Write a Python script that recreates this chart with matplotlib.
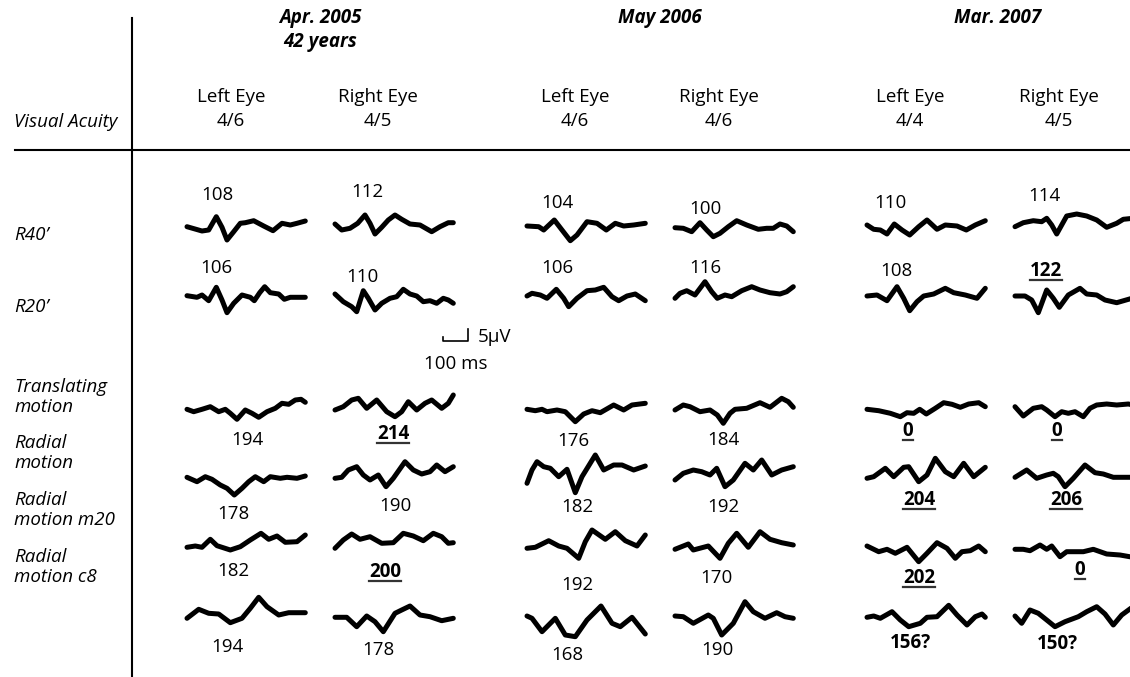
import matplotlib
matplotlib.use('Agg')
import matplotlib.pyplot as plt

plt.rcParams['font.family'] = ['Open Sans', 'DejaVu Sans']

# column / row headers
dates = ['Apr. 2005\n42 years', 'May 2006', 'Mar. 2007']
eyes = ['Left Eye', 'Right Eye'] * 3
acuity = ['4/6', '4/5', '4/6', '4/6', '4/4', '4/5']
rows = ["R40\u2019", "R20\u2019", 'Translating\nmotion', 'Radial\nmotion',
        'Radial\nmotion m20', 'Radial\nmotion c8']

# peak latencies (ms), one per column
lat_r40 = ['108', '112', '104', '100', '110', '114']
lat_r20 = ['106', '110', '106', '116', '108', '122']
lat_trans = ['194', '214', '176', '184', '0', '0']
lat_radial = ['178', '190', '182', '192', '204', '206']
lat_m20 = ['182', '200', '192', '170', '202', '0']
lat_c8 = ['194', '178', '168', '190', '156?', '150?']
# abnormal values are bold + underlined, uncertain ones bold only
underlined = {(1, 5), (2, 1), (2, 4), (2, 5), (3, 4), (3, 5), (4, 1), (4, 4), (4, 5)}
bold_only = {(5, 4), (5, 5)}

# traces: (time step, amplitude) points
wave_r40 = [
    [(0, 1.3), (15, -3), (21.7, -2), (29.3, 11.3), (35, 0.7), (40, -12), (46.7, -3.7), (53.3, 4.7),
     (58.3, 5.3), (66.7, 7.3), (76.7, 2), (86, -2.7), (95, 4.7), (103.3, 3), (110, 4.7), (118.3, 7)],
    [(0, 4), (6.7, -2), (15, -0.3), (22.7, 4.7), (30, 13), (35, 4.7), (40, -6), (46.7, 0.7), (53.3, 8),
     (60, 13), (66.7, 8.7), (75, 4), (85, 3), (96.7, -3.7), (105, 1.3), (113.3, 5.3), (118.3, 5.3)],
    [(0, 2), (11.7, 1.3), (16.7, -2), (27.3, 8), (35, -2), (43.3, -12.7), (50, -7), (60, 6.3), (70, 4.7),
     (79.3, -2), (88.3, 4.7), (96.7, 2), (106.7, 3), (118.3, 4.7)],
    [(0, 0.3), (8.3, -0.3), (16.7, -3.7), (25, 5.3), (31.7, -2), (38.3, -8.7), (45, -5.3), (53.3, 1.3),
     (61.7, 7.3), (71.7, 3), (83.3, -1.3), (91.7, -0.3), (98.3, -0.3), (105, 4), (111.7, 2), (118.3, -3.7)],
    [(0, 3), (6.7, -1.3), (13.3, -2), (20, -6), (27.3, 4), (35, -2), (42.7, -7), (51.7, 1.3), (60, 8),
     (70, -1.3), (78.3, 3), (90, 2), (99.3, -2), (108.3, 3), (118.3, 7.3)],
    [(0, 1.3), (8.3, 5.3), (18.3, 7.3), (26.7, 6.3), (31.7, 9.7), (36.7, 3), (41.7, -6), (46.7, 3),
     (51.7, 12), (61.7, 14), (71.7, 12), (81.7, 8), (91.7, 0.7), (101.7, 4.7), (108.3, 8.7), (118, 9.7)],
]
wave_r20 = [
    [(0, 2.3), (10, 0.7), (15, 3), (21.7, -2.7), (29.3, 10.7), (35, -2), (40, -14.7), (46.7, -5.3),
     (55, 3), (63.3, 0.7), (67.3, -2.7), (72.7, 5.3), (77.7, 11.3), (83.3, 5.3), (91.7, 4),
     (97.3, -1.3), (103.3, 0.7), (118.3, 0.7)],
    [(0, 4), (8.3, -3.7), (16.7, -8.7), (21.7, -13.7), (28.3, 7.3), (33.3, -0.3), (40, -12),
     (46.7, -5.3), (55, -0.3), (61.7, 1.3), (68.3, 8.7), (75, 4), (81.7, 2), (88.3, -3.7), (95, -2.7),
     (101.7, -5.3), (108.3, -0.3), (113.3, -2), (118.3, -5.3)],
    [(0, 2), (5, 4.7), (13.3, 3), (20, -0.3), (29.3, 8.7), (36.7, -0.3), (41.7, -8.7), (50, -0.3),
     (60, 7.3), (68.3, 8), (76.7, 10.7), (85, 1.3), (91.7, -2.7), (100, 2), (108.3, 4), (118.3, -2.7)],
    [(0, -0.3), (5, 4.7), (11.7, 7.3), (20, 3), (30, 16.3), (36.7, 6.3), (42.3, -0.3), (50, 3),
     (56.7, 1.3), (66.7, 7.3), (76.7, 11.3), (85, 8), (95, 5.3), (105, 4), (111.7, 6.3), (118.3, 11.3)],
    [(0, 2), (10, 3), (20, -2.7), (30, 11.3), (36.7, -0.3), (42.7, -12.7), (50, -3.7), (56.7, 2),
     (66.7, 4), (78.3, 9.7), (86.7, 5.3), (98.3, 3), (110, -0.3), (118.3, 9.7)],
    [(0, 2), (10, 2), (16.7, -2), (23.3, -14.7), (31.7, 8), (38.3, -0.3), (44.3, -9.3), (53.3, 3),
     (65, 9.7), (71.7, 4), (81.7, 3), (90, -2), (101.7, -4.7), (118, 0)],
]
wave_trans = [
    [(0, 0.7), (6.7, -1.7), (15, 0.7), (23.3, 3.3), (31.7, -1.7), (38.3, 0.7), (43.3, -3.3), (50, -9.3),
     (58.3, 0), (65, -3.3), (71.7, -7.3), (80, -1.7), (88.3, 1.7), (95, 6.7), (101.7, 5.7), (108.3, 10),
     (114, 10.7), (118.3, 7.7)],
    [(0, 0), (8.3, 3.3), (16.7, 10), (23.3, 11.7), (31.7, 1.7), (41.7, 10), (51.7, -1.7), (60, -6.7),
     (66.7, -1.7), (73.3, 8.3), (81.7, 0), (90, 6.7), (96.7, 10), (106.7, 1.7), (113.3, 6.7), (118.3, 15)],
    [(0, 0.7), (8.3, -0.7), (15, 0.7), (20, -1.7), (30, 0), (38.3, -1.7), (48.3, -11.7), (56.7, -4),
     (65, -0.7), (73.3, -2.7), (86.7, 5), (96.7, 0), (105, 5), (118.3, 6.7)],
    [(0, 0), (8.3, 5), (15, 3.3), (25, -1.7), (35, 0), (42.3, -5), (48.3, -13.3), (55, -3.3), (60, 0.7),
     (71.7, 1.7), (85, 7.3), (95, 2.7), (106.7, 11.7), (113.3, 8.3), (118.3, 2.7)],
    [(0, 0.7), (11.7, -0.7), (23.3, -3.3), (33.3, -6.7), (40, -2.7), (46.7, -3.3), (52.7, 0.7),
     (59.3, -4), (68.3, 1.7), (76.7, 7.3), (85, 5.7), (93.3, 2.7), (101.7, 6), (111.7, 7.3), (118.3, 3.3)],
    [(0, 3.3), (8.3, -6), (18.3, 1.7), (26.7, 3.3), (31.7, 0), (40, -6.7), (46.7, -1.7), (53.3, -3.3),
     (60, -1.7), (68.3, -6.7), (75, 1.7), (81.7, 5), (91.7, 6), (101.7, 5), (113.3, 6), (118, 5)],
]
wave_radial = [
    [(0, 0.7), (10, -3.7), (18.3, 1.3), (25, -1.3), (33.3, -7), (40, -10.3), (47.3, -17), (55, -10.3),
     (61.7, -3.7), (68.3, 1.3), (76.7, -3.7), (83.3, 1.3), (93.3, -0.3), (100, 0.7), (110, -0.3),
     (118.3, 2)],
    [(0, -0.3), (6.7, 0.7), (13.3, 8), (21.7, 11.3), (28.3, 3), (35, -2), (43.3, 3), (51, -8.7),
     (58.3, -0.3), (70, 16.3), (78.3, 8), (86.7, 4), (95, 6.3), (101.7, 13), (110, 6.3), (118.3, 11.3)],
    [(0, -5.3), (5, 8), (10, 16.3), (16.7, 11.3), (23.3, 9.7), (31.7, 1.3), (40, 8.7), (48.3, -14.7),
     (55, 1.3), (68.3, 23), (76.7, 8), (86.7, 13), (95, 13), (106.7, 8), (118.3, 12)],
    [(0, -2), (8.3, 4.7), (18.3, 8), (26.7, 6.3), (35, 3), (41.7, 9.7), (50, -8.7), (58.3, -2),
     (70, 14.7), (78.3, 8), (86.7, 18), (96.7, 3), (106.7, 8), (118.3, 11.3)],
    [(0, -0.3), (6.7, 1.3), (18.3, 9.7), (26.7, 1.3), (36.7, 10.7), (41.7, 11.3), (51.7, -3.7), (60, 3),
     (68.3, 19.7), (78.3, 6.3), (86.7, 1.3), (96.7, 14.7), (106.7, 1.3), (118.3, 10.7)],
    [(0, 0.7), (11.7, 8), (21.7, -0.3), (31.7, 3), (38.3, 4.7), (43.3, 1.3), (50, -8.7), (58.3, -0.3),
     (70, 13), (80, 5.3), (88.3, 4), (98.3, 0.7), (118, 0.7)],
]
wave_m20 = [
    [(0, -5.3), (8.3, -4), (15, -5.3), (23.3, 2.7), (30, -3.7), (43.3, -8), (53.3, -4.7), (63.3, 2),
     (74, 8.7), (81.7, 2.7), (90, 6), (98.3, -0.3), (110, 0.3), (118.3, 7)],
    [(0, -6.3), (8.3, 2), (16.7, 8), (25, 2.7), (35, 5.3), (46.7, -1.3), (58.3, -0.7), (68.3, 8.7),
     (78.3, 6), (88.3, 1.3), (98.3, 8.7), (106.7, 5.3), (113.3, -1.3), (118.3, -0.7)],
    [(0, -6.3), (8.3, -5.3), (21.7, 1.3), (31.7, -4), (40, -6.3), (51.7, -16.3), (58.3, 0.3), (65, 12),
     (78.3, 2.7), (88.3, 10.3), (98.3, 1.3), (110, -4), (118.3, 7)],
    [(0, -7.3), (13.3, -2), (18.3, -8), (33.3, -4), (45, -16.3), (53.3, -1.3), (61.7, 8.7), (73.3, -5.3),
     (85, 10.3), (95, 2.7), (106.7, -0.7), (118.3, -3)],
    [(0, -4), (11.7, -9.7), (20, -7.3), (28.3, -11.3), (40, -5.3), (51.7, -19.7), (60, -11.3),
     (70, -0.7), (80, -6.3), (88.3, -16.3), (95, -9.7), (103.3, -8.7), (111.7, -4), (118.3, -9.7)],
    [(0, -7.3), (8.3, -7.3), (15, -8.7), (25, -3), (31.7, -7.3), (36.7, -4), (45, -14.7), (51.7, -9.7),
     (68.3, -9.7), (78.3, -7.3), (91.7, -12), (105, -13), (118, -15.3)],
]
wave_c8 = [
    [(0, -6.3), (11.7, 2.7), (21.7, -1.3), (31.7, -2), (43.3, -10.7), (55, -6.3), (63.3, 3.7),
     (71.7, 14.7), (80, 5.3), (91.7, -3), (101.7, -0.7), (118.3, -0.7)],
    [(0, -5.3), (11.7, -5.3), (21.7, -14.7), (31.7, -4), (40, -9.7), (48.3, -19.7), (60, -1.3), (66.7, 2),
     (75, 6), (85, -3), (95, -4.7), (106.7, -8.7), (118.3, -6.3)],
    [(0, -4), (5, -6.3), (15, -19.7), (28.3, -6.3), (38.3, -23), (48.3, -24.7), (60, -8), (74, 6),
     (85, -11.3), (93.3, -14.7), (105, -5.3), (118.3, -22)],
    [(0, -4), (8.3, -4.7), (18.3, -11.3), (33.3, -3), (38.3, -6.3), (46.7, -23), (58.3, -11.3), (70, 10.3),
     (78.3, 0.3), (90, -6.3), (101.7, -0.7), (110, -4.7), (118.3, -6.3)],
    [(0, -5.3), (6.7, -4), (13.3, -6.3), (25, 0.3), (33.3, -8), (41.7, -14.7), (53.3, -11.3), (60, -5.3),
     (70, -4.7), (81.7, 6.7), (90, -3), (100, -13), (108.3, -4.7), (115, -2), (118.3, -5.3)],
    [(0, -4), (6.7, -11.3), (15, 2), (23.3, -1.3), (31.7, -8), (40, -14.7), (50, -9.7), (63.3, -4.7),
     (71.7, 0.3), (81.7, 5.3), (90, -2), (98.3, -13), (106.7, -3), (118, 5.3)],
]

waves = [wave_r40, wave_r20, wave_trans, wave_radial, wave_m20, wave_c8]
lats = [lat_r40, lat_r20, lat_trans, lat_radial, lat_m20, lat_c8]

# layout (pixels of the 1130x677 canvas)
col_x0 = [187, 335, 527, 675, 867, 1015]
col_mid = [231, 378, 575, 719, 910, 1059]
date_mid = [320, 660, 998]
row_base = [228, 298, 410, 478, 542, 612]
row_label_y = [235, 307, 397, 453, 510, 567]
lat_xy = [
    [(217, 195), (367, 192), (557, 203), (705, 209), (890, 203), (1044, 196)],
    [(216, 268), (362, 277), (557, 268), (705, 268), (896, 271), (1046, 271)],
    [(247, 440), (393, 434), (573, 441), (723, 440), (908, 431), (1057, 431)],
    [(233, 514), (395, 506), (577, 507), (723, 507), (919, 500), (1066, 500)],
    [(233, 571), (385, 572), (577, 585), (716, 578), (919, 578), (1080, 570)],
    [(227, 647), (378, 650), (567, 655), (717, 650), (910, 643), (1057, 644)],
]

fs = 13.5
fig = plt.figure(figsize=(11.3, 6.77), dpi=100)
ax = fig.add_axes([0, 0, 1, 1])
ax.set_xlim(0, 1130)
ax.set_ylim(677, 0)
ax.axis('off')

# grid lines
ax.plot([132, 132], [18, 677], color='black', lw=1.5)
ax.plot([15, 1130], [150, 150], color='black', lw=1.5)

for i, d in enumerate(dates):
    ax.text(date_mid[i], 8, d, ha='center', va='top', fontsize=fs, fontweight='bold',
            fontstyle='italic', linespacing=1.25)
for j in range(6):
    ax.text(col_mid[j], 97, eyes[j], ha='center', va='center', fontsize=fs)
    ax.text(col_mid[j], 121, acuity[j], ha='center', va='center', fontsize=fs)
ax.text(14, 122, 'Visual Acuity', ha='left', va='center', fontsize=fs, fontstyle='italic')

for i, name in enumerate(rows):
    ax.text(14, row_label_y[i], name, ha='left', va='center', fontsize=fs, fontstyle='italic',
            linespacing=1.2)

# waveforms
for i, row in enumerate(waves):
    for j, pts in enumerate(row):
        xs = [col_x0[j] + t for t, v in pts]
        ys = [row_base[i] - v for t, v in pts]
        ax.plot(xs, ys, color='black', lw=3.6, solid_joinstyle='round', solid_capstyle='round')

# latency numbers
under = []
for i, row in enumerate(lats):
    for j, s in enumerate(row):
        x, y = lat_xy[i][j]
        bold = (i, j) in underlined or (i, j) in bold_only
        t = ax.text(x, y, s, ha='center', va='center', fontsize=fs,
                    fontweight='bold' if bold else 'normal')
        if (i, j) in underlined:
            under.append(t)

fig.canvas.draw()
inv = ax.transData.inverted()
for t in under:
    bb = t.get_window_extent()
    (x1, y1), (x2, y2) = inv.transform([[bb.x0, bb.y0], [bb.x1, bb.y1]])
    ax.plot([x1, x2], [y1 - 1, y1 - 1], color='#333333', lw=1.6)

# scale bar
ax.plot([443, 443, 468, 468], [337, 341, 341, 329], color='black', lw=1.2)
ax.text(478, 337, '5\u03bcV', ha='left', va='center', fontsize=fs)
ax.text(456, 364, '100 ms', ha='center', va='center', fontsize=fs)

fig.savefig('out.png', dpi=100)
